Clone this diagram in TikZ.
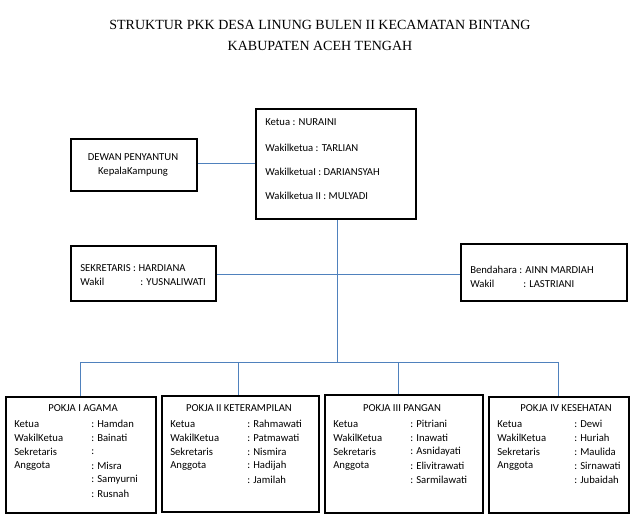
\documentclass[tikz,border=0pt]{standalone}
\usepackage{fontspec}
\setmainfont{Carlito}
\newfontfamily\titlefont{Liberation Serif}
\usetikzlibrary{positioning}
\tikzset{
  box/.style={draw=black, line width=1.6pt, anchor=north west, inner sep=0pt},
  txt/.style={anchor=west, inner sep=0pt, font=\fontsize{8}{9}\selectfont},
  link/.style={draw={rgb,255:red,79;green,129;blue,189}, line width=0.6pt}
}
\newcommand{\mkbox}[5]{\node[box, minimum width=#3*0.75pt, minimum height=#4*0.75pt] (#5) at (#1,#2) {};}
\begin{document}
\begin{tikzpicture}[x=0.75pt,y=-0.75pt]
\useasboundingbox (0,0) rectangle (643,526);
% === title ===
\node[font=\titlefont\fontsize{10.5}{12}\selectfont] (title1) at (320,25) {STRUKTUR PKK DESA LINUNG BULEN II KECAMATAN BINTANG};
\node[font=\titlefont\fontsize{10.5}{12}\selectfont] (title2) at (320,46) {KABUPATEN ACEH TENGAH};
% === top boxes ===
\mkbox{255}{108}{160}{110}{ketua}
\mkbox{70}{138}{126}{52}{dewan}
\mkbox{70}{245}{145}{55}{sekre}
\mkbox{460}{243}{166}{57}{benda}
\node[txt] at (265,122) {Ketua : NURAINI};
\node[txt] at (265,148) {Wakilketua : TARLIAN};
\node[txt] at (265,172) {WakilketuaI : DARIANSYAH};
\node[txt] at (265,196) {Wakilketua  II : MULYADI};
\node[txt, anchor=center] at (133,157) {DEWAN PENYANTUN};
\node[txt, anchor=center] at (133,172) {KepalaKampung};
\node[txt] at (80,268) {SEKRETARIS : HARDIANA};
\node[txt] at (80,282) {Wakil};
\node[txt] at (140,282) {: YUSNALIWATI};
\node[txt] at (470,270) {Bendahara : AINN MARDIAH};
\node[txt] at (470,284) {Wakil};
\node[txt] at (523,284) {: LASTRIANI};
% === pokja boxes ===
\mkbox{5}{396}{150}{116}{pokja1}
\mkbox{161}{395}{157}{116}{pokja2}
\mkbox{324}{394}{158}{118}{pokja3}
\mkbox{488}{396}{140}{116}{pokja4}
\foreach \bx/\ttl/\ca/\cb/\cc/\cd/\ce/\cf in {
  5/POKJA I AGAMA/: Hamdan/: Bainati/:/: Misra/: Samyurni/: Rusnah,
  161/POKJA II KETERAMPILAN/: Rahmawati/: Patmawati/: Nismira/: Hadijah/: Jamilah/,
  324/POKJA III PANGAN/: Pitriani/: Inawati/: Asnidayati/: Elivitrawati/: Sarmilawati/,
  488/POKJA IV KESEHATAN/: Dewi/: Huriah/: Maulida/: Sirnawati/: Jubaidah/}{
  \node[txt, anchor=center] at (\bx+78,408) {\ttl};
  \node[txt] at (\bx+9,424) {Ketua};
  \node[txt] at (\bx+9,438) {WakilKetua};
  \node[txt] at (\bx+9,452) {Sekretaris};
  \node[txt] at (\bx+9,466) {Anggota};
  \node[txt] at (\bx+86,424) {\ca};
  \node[txt] at (\bx+86,438) {\cb};
  \node[txt] at (\bx+86,452) {\cc};
  \node[txt] at (\bx+86,466) {\cd};
  \node[txt] at (\bx+86,480) {\ce};
  \node[txt] at (\bx+86,494) {\cf};
}
% === connectors ===
\coordinate (hub) at (337,274);
\coordinate (bar) at (337,362);
\draw[link] (dewan.east |- 0,163) -- (ketua.west |- 0,163);
\draw[link] (ketua.south -| hub) -- (bar);
\draw[link] (sekre.east |- hub) -- (benda.west |- hub);
\draw[link] (80,362) -- (558,362);
\foreach \p/\x in {pokja1/80, pokja2/238, pokja3/398, pokja4/558}
  \draw[link] (\x,362) -- (\p.north -| \x,0);
\end{tikzpicture}
\end{document}
